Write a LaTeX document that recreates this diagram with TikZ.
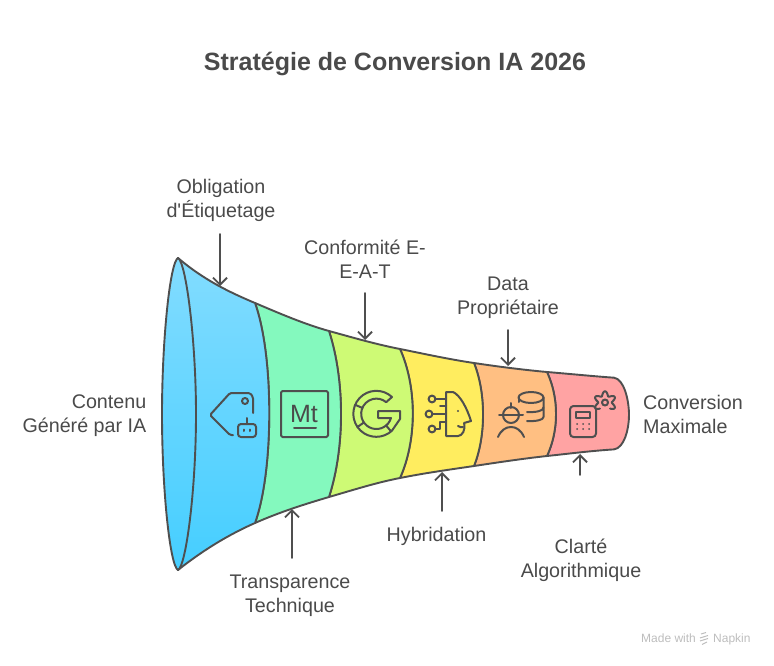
\documentclass[tikz,border=0pt]{standalone}
\usepackage{fontspec}
\setmainfont{Liberation Sans}[Ligatures=TeXOff]
\usepackage{tikz}
\usetikzlibrary{arrows.meta,calc}
\definecolor{ink}{HTML}{4A4A4A}
\definecolor{inkLine}{HTML}{4F4F4F}
\definecolor{skyTop}{HTML}{82DCFF}
\definecolor{skyBot}{HTML}{45CEFF}
\definecolor{mintBand}{HTML}{84F9BE}
\definecolor{limeBand}{HTML}{CEFA75}
\definecolor{sunBand}{HTML}{FFED5F}
\definecolor{peachBand}{HTML}{FFBF82}
\definecolor{roseBand}{HTML}{FFA3A3}
\definecolor{markGrey}{HTML}{BDBDBD}

\begin{document}
\begin{tikzpicture}[x=1pt,y=1pt,yscale=-1,
  every node/.style={font=\fontsize{19.7}{24}\selectfont,text=ink,inner sep=0pt},
  band/.style={draw=inkLine,line width=1.9pt,line join=round},
  flow/.style={draw=inkLine,line width=1.9pt,line cap=round,-{Straight Barb[length=7pt,width=14pt,line width=1.9pt]}},
  icon/.style={draw=inkLine,line width=2pt,line cap=round,line join=round}]
  \useasboundingbox (0,0) rectangle (774,666);

  \node (Title) at (395,64) {\fontsize{25}{30}\selectfont\bfseries Stratégie de Conversion IA 2026};

  \draw[band,fill=roseBand] (547,372) .. controls (571,374) and (594,376.3) .. (614,377.7)
    .. controls (624,379) and (629,400) .. (629,415) .. controls (629,430) and (624,448) .. (614,449.4)
    .. controls (594,450.6) and (571,453.4) .. (547,456) .. controls (559,430) and (559,398) .. (547,372) -- cycle;
  \draw[band,fill=peachBand] (474,363) .. controls (498,366.6) and (523,369.8) .. (547,372)
    .. controls (559,398) and (559,430) .. (547,456) .. controls (523,458.6) and (498,462.4) .. (474,466)
    .. controls (486,436) and (486,393) .. (474,363) -- cycle;
  \draw[band,fill=sunBand] (400,349) .. controls (425,354) and (449,359.3) .. (474,363)
    .. controls (486,393) and (486,436) .. (474,466) .. controls (449,469.7) and (425,473) .. (400,478)
    .. controls (417,440) and (417,387) .. (400,349) -- cycle;
  \draw[band,fill=limeBand] (329,331) .. controls (353,337.6) and (376,344.3) .. (400,349)
    .. controls (417,387) and (417,440) .. (400,478) .. controls (376,482.7) and (353,490) .. (329,497)
    .. controls (345,447) and (345,381) .. (329,331) -- cycle;
  \draw[band,fill=mintBand] (255,303) .. controls (280,313.6) and (304,324) .. (329,331)
    .. controls (345,381) and (345,447) .. (329,497) .. controls (304,504.4) and (280,512) .. (255,523)
    .. controls (274,470) and (274,356) .. (255,303) -- cycle;
  \draw[band,top color=skyTop,bottom color=skyBot] (178,258) .. controls (204,280) and (229,292) .. (255,303)
    .. controls (274,356) and (274,470) .. (255,523) .. controls (229,534.5) and (204,549.5) .. (178,570) -- cycle;
  \draw[band,top color=skyTop,bottom color=skyBot] (178,258) .. controls (170,262) and (162,340) .. (162,414)
    .. controls (162,490) and (170,566) .. (178,570) .. controls (186,566) and (196,490) .. (196,414)
    .. controls (196,340) and (186,262) .. (178,258) -- cycle;

  % tag and robot
  \draw[icon,rounded corners=1.5pt] (233,435) -- (230,435) -- (210,415) -- (230,393) -- (250,393) -- (253,397) -- (253,413);
  \draw[icon] (245,401) circle (3);
  \draw[icon,rounded corners=3pt] (238,424) rectangle (256,437);
  \draw[icon] (247,418) -- (247,424);
  \draw[icon] (244,429.5) -- (244,431) (250,429.5) -- (250,431);

  % Mt box
  \draw[icon,rounded corners=1.5pt] (281,391) rectangle (328,437);
  \node (MtMark) at (304,414) {\fontsize{25}{25}\selectfont Mt};
  \draw[icon] (294,428) -- (316,428);

  % G ring
  \draw[icon] (392,397) arc[start angle=-47,end angle=-313,radius=23];
  \draw[icon] (392,430.6) -- (400,419) -- (400,411) -- (378,411) -- (378,418) -- (391,418)
    arc[start angle=16,end angle=310,radius=15.2] -- (392,397);
  \foreach \cutang in {203,145,50}
    \draw[icon] ($(376.3,413.8)+(\cutang:15.2)$) -- ($(376.3,413.8)+(\cutang:23)$);

  % face with wires
  \draw[icon] (446,392) -- (453,392) .. controls (460,395) and (467,408) .. (471,421) -- (464,423)
    .. controls (466,430) and (462,436) .. (458,436) -- (446,436) -- cycle;
  \fill[inkLine] (458,411) circle (1.2);
  \draw[icon] (458,426) .. controls (460,427.5) and (462,427.5) .. (463,427);
  \draw[icon] (432,399) circle (3.4);
  \draw[icon] (429,414) circle (3.4);
  \draw[icon] (432,429) circle (3.4);
  \draw[icon] (435.4,399) -- (446,399);
  \draw[icon] (440,406) -- (446,406);
  \draw[icon] (432.4,414) -- (446,414);
  \draw[icon] (435.4,429) -- (440,429) -- (440,422) -- (446,422);

  % worker and database
  \draw[icon] (503,415) arc[start angle=180,end angle=360,radius=8];
  \draw[icon] (503,415) arc[start angle=180,end angle=0,radius=8];
  \draw[icon] (499,415) -- (523,415);
  \draw[icon] (511,403) -- (511,408);
  \draw[icon] (498,437) .. controls (501,430) and (506,427) .. (511,427) .. controls (516,427) and (521,430) .. (524,437);
  \draw[icon] (531,397.5) ellipse [x radius=12.5,y radius=5.5];
  \draw[icon] (518.5,397.5) -- (518.5,402);
  \draw[icon] (543.5,397.5) -- (543.5,417) .. controls (543.5,420) and (536,421.5) .. (527,421);
  \draw[icon] (543.5,407.5) .. controls (543.5,411) and (536,412.5) .. (527,412);

  % calculator and gear
  \draw[icon,rounded corners=3.5pt] (570,406) rectangle (596,437);
  \draw[icon] (576,412) rectangle (590,418);
  \foreach \dotx in {577,583,589}
    \foreach \doty in {424,429}
      \fill[inkLine] (\dotx,\doty) circle (1);
  \draw[icon] (605,402.5) circle (3);
  \draw[icon,shift={(605,402.5)}] plot[domain=130:410,samples=70,smooth] (\x:{9+2.2*cos(6*(\x-30))});

  \node[align=center] (Oblig) at (221,200) {Obligation\\d'Étiquetage};
  \node[align=center] (Conf) at (365,259) {Conformité E-\\E-A-T};
  \node[align=center] (Data) at (508,297.5) {Data\\Propriétaire};
  \node[align=right,anchor=east] (Source) at (146.5,416) {Contenu\\Généré par IA};
  \node[align=left,anchor=west] (Goal) at (643,414) {Conversion\\Maximale};
  \node[align=center] (Transp) at (290,596) {Transparence\\Technique};
  \node (Hybrid) at (436.5,536) {Hybridation};
  \node[align=center] (Clarte) at (581,560) {Clarté\\Algorithmique};

  \coordinate (ObligIn) at (220,286);
  \coordinate (ConfIn) at (365,340);
  \coordinate (DataIn) at (508,366);
  \coordinate (TranspIn) at (292,509);
  \coordinate (HybridIn) at (442,472);
  \coordinate (ClarteIn) at (580,454);
  \coordinate (ObligOut) at (220,234);
  \coordinate (ConfOut) at (365,293);
  \coordinate (DataOut) at (508,330);
  \coordinate (TranspOut) at (292,558);
  \coordinate (HybridOut) at (442,511);
  \coordinate (ClarteOut) at (580,475);
  \draw[flow] (ObligOut) -- (ObligIn);
  \draw[flow] (ConfOut) -- (ConfIn);
  \draw[flow] (DataOut) -- (DataIn);
  \draw[flow] (TranspOut) -- (TranspIn);
  \draw[flow] (HybridOut) -- (HybridIn);
  \draw[flow] (ClarteOut) -- (ClarteIn);

  \node[font=\fontsize{12}{14}\selectfont,text=markGrey,anchor=base west] (MadeWith) at (641,642) {Made with};
  \node[font=\fontsize{12}{14}\selectfont,text=markGrey,anchor=base west] (Napkin) at (713,642) {Napkin};
  \draw[markGrey,line width=1pt] (701,634) -- (706,632.5) (700,638) -- (708,635.5) (700,641) -- (708,638.5) (702,644.5) -- (707,642);
\end{tikzpicture}
\end{document}
